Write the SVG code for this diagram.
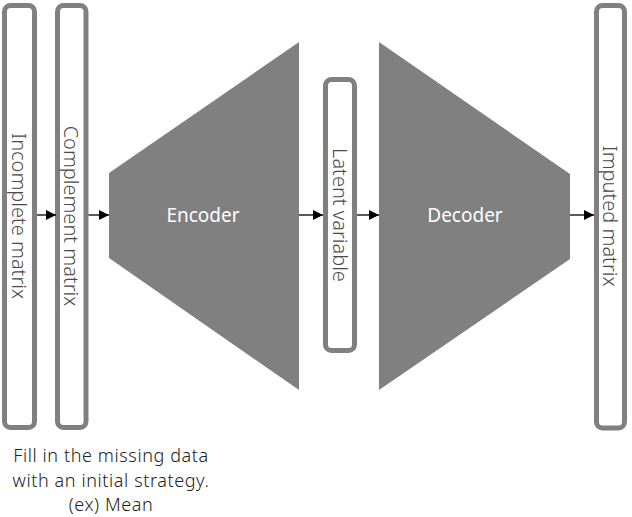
<svg xmlns="http://www.w3.org/2000/svg" width="632" height="517" viewBox="0 0 632 517">
<style>
.box{fill:#fff;stroke:#808080;stroke-width:5}
.shape{fill:#808080}
.vt{font-family:"Noto Sans","DejaVu Sans",sans-serif;font-size:20px;fill:#4a4a4a;font-weight:300;text-anchor:middle;dominant-baseline:central}
.wt{font-family:"Noto Sans","DejaVu Sans",sans-serif;font-size:19px;fill:#fff;text-anchor:middle;dominant-baseline:central}
.note{font-family:"Noto Sans","DejaVu Sans",sans-serif;font-size:18px;letter-spacing:0.6px;fill:#222;font-weight:300;text-anchor:middle}
.conn{stroke:#000;stroke-width:1.3;fill:none;marker-end:url(#ah)}
</style>
<defs>
<marker id="ah" markerWidth="10" markerHeight="10" refX="10" refY="5" orient="auto" markerUnits="userSpaceOnUse">
<path d="M0,0 L10,5 L0,10 Z" fill="#000"/>
</marker>
</defs>
<g id="incomplete">
<rect class="box" x="4.5" y="5.5" width="30" height="422" rx="6"/>
<text class="vt" transform="translate(19.5,216) rotate(90)">Incomplete matrix</text>
</g>
<g id="complement">
<rect class="box" x="57.5" y="5.5" width="28.5" height="422" rx="6"/>
<text class="vt" transform="translate(71.7,216) rotate(90)">Complement matrix</text>
</g>
<g id="encoder">
<polygon class="shape" points="109,173 299,42 299,390 109,258"/>
<text class="wt" x="203" y="215">Encoder</text>
</g>
<g id="latent">
<rect class="box" x="325.5" y="79.5" width="29" height="271" rx="6"/>
<text class="vt" transform="translate(340,215) rotate(90)">Latent variable</text>
</g>
<g id="decoder">
<polygon class="shape" points="379,42 570,174 570,259 379,390"/>
<text class="wt" x="465" y="215">Decoder</text>
</g>
<g id="imputed">
<rect class="box" x="596.5" y="5.5" width="28" height="422.5" rx="6"/>
<text class="vt" transform="translate(610.5,216) rotate(90)">Imputed matrix</text>
</g>
<g id="note">
<text class="note" x="111" y="462">Fill in the missing data</text>
<text class="note" x="111" y="487">with an initial strategy.</text>
<text class="note" x="111" y="511">(ex) Mean</text>
</g>
<g id="connectors">
<line class="conn" x1="37" y1="215" x2="56" y2="215"/>
<line class="conn" x1="88.5" y1="215" x2="109" y2="215"/>
<line class="conn" x1="299" y1="215" x2="323" y2="215"/>
<line class="conn" x1="357" y1="215" x2="379" y2="215"/>
<line class="conn" x1="570" y1="215" x2="594" y2="215"/>
</g>
</svg>
